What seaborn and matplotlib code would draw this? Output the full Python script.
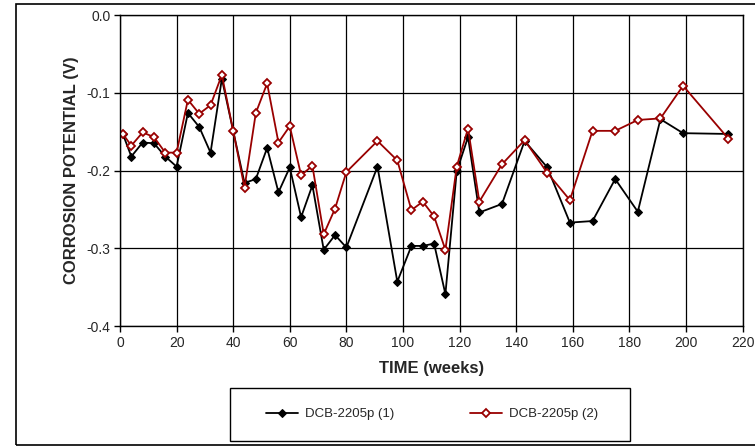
import numpy as np
import pandas as pd
import matplotlib
matplotlib.use("Agg")
import matplotlib.pyplot as plt
import seaborn as sns
from matplotlib.patches import Rectangle

# Corrosion potential readings
weeks = [1, 4, 8, 12, 16, 20, 24, 28, 32, 36, 40, 44, 48, 52, 56, 60, 64, 68,
         72, 76, 80, 91, 98, 103, 107, 111, 115, 119, 123, 127, 135,
         143, 151, 159, 167, 175, 183, 191, 199, 215]

potential_1 = [-0.153, -0.182, -0.164, -0.165, -0.182, -0.195, -0.126, -0.144,
               -0.177, -0.082, -0.149, -0.216, -0.211, -0.171, -0.228, -0.196,
               -0.260, -0.219, -0.302, -0.283, -0.299, -0.195, -0.343, -0.297,
               -0.297, -0.294, -0.359, -0.201, -0.157, -0.254, -0.243,
               -0.162, -0.196, -0.267, -0.265, -0.211, -0.253, -0.134, -0.152,
               -0.153]

potential_2 = [-0.153, -0.168, -0.151, -0.157, -0.177, -0.177, -0.109, -0.127,
               -0.116, -0.077, -0.149, -0.222, -0.126, -0.088, -0.164, -0.143,
               -0.206, -0.194, -0.282, -0.249, -0.202, -0.162, -0.187, -0.251,
               -0.240, -0.259, -0.302, -0.195, -0.146, -0.240, -0.192,
               -0.161, -0.203, -0.238, -0.149, -0.149, -0.135, -0.133, -0.091,
               -0.159]

series_names = ["DCB-2205p (1)", "DCB-2205p (2)"]
x_ticks = [0, 20, 40, 60, 80, 100, 120, 140, 160, 180, 200, 220]
y_ticks = [-0.4, -0.3, -0.2, -0.1, 0.0]

sns.set_style("white")
plt.rcParams['font.family'] = ['Liberation Sans', 'DejaVu Sans']
plt.rcParams['axes.unicode_minus'] = False

fig = plt.figure(figsize=(7.55, 4.48), dpi=100)
ax = fig.add_axes([120 / 755, 1 - 326 / 448, 622.5 / 755, 311 / 448])

# outer chart border (right edge runs off the picture)
fig.patches.append(Rectangle((16 / 755, 1 - 445 / 448), 1.0, 441 / 448,
                             transform=fig.transFigure, fill=False,
                             edgecolor="black", linewidth=1.2))

sns.lineplot(x=weeks, y=potential_1, ax=ax, color="black", marker="D",
             markersize=5.5, markerfacecolor="black", markeredgecolor="black",
             linewidth=1.3, label=series_names[0])
sns.lineplot(x=weeks, y=potential_2, ax=ax, color="#990000", marker="D",
             markersize=5.5, markerfacecolor="white", markeredgecolor="#990000",
             markeredgewidth=1.3, linewidth=1.3, label=series_names[1])

ax.set_xlim(0, 220)
ax.set_ylim(-0.4, 0.0)
ax.set_xticks(x_ticks)
ax.set_yticks(y_ticks)
ax.set_yticklabels([f"{v:.1f}" for v in y_ticks])
ax.tick_params(axis="both", direction="out", length=4, width=1, color="black",
               labelsize=10, pad=3, left=True, bottom=True)
ax.grid(True, color="black", linewidth=0.9)
ax.set_axisbelow(True)
for spine in ax.spines.values():
    spine.set_color("black")
    spine.set_linewidth(1.0)

ax.set_xlabel("TIME (weeks)", fontsize=12, fontweight="bold", labelpad=8)
ax.set_ylabel("CORROSION POTENTIAL (V)", fontsize=12, fontweight="bold", labelpad=5)

handles, labels = ax.get_legend_handles_labels()
ax.get_legend().remove()
for h in handles:
    h.set_markersize(4.5)
fig.legend(handles, labels, loc="center", bbox_to_anchor=(432 / 755, 1 - 414 / 448),
           ncol=2, frameon=False, fontsize=9.5, handlelength=2.4,
           columnspacing=5.8, handletextpad=0.5)
fig.patches.append(Rectangle((230 / 755, 1 - 441 / 448), 400 / 755, 53 / 448,
                             transform=fig.transFigure, fill=False,
                             edgecolor="black", linewidth=1.0))

fig.savefig("out.png", dpi=100)
